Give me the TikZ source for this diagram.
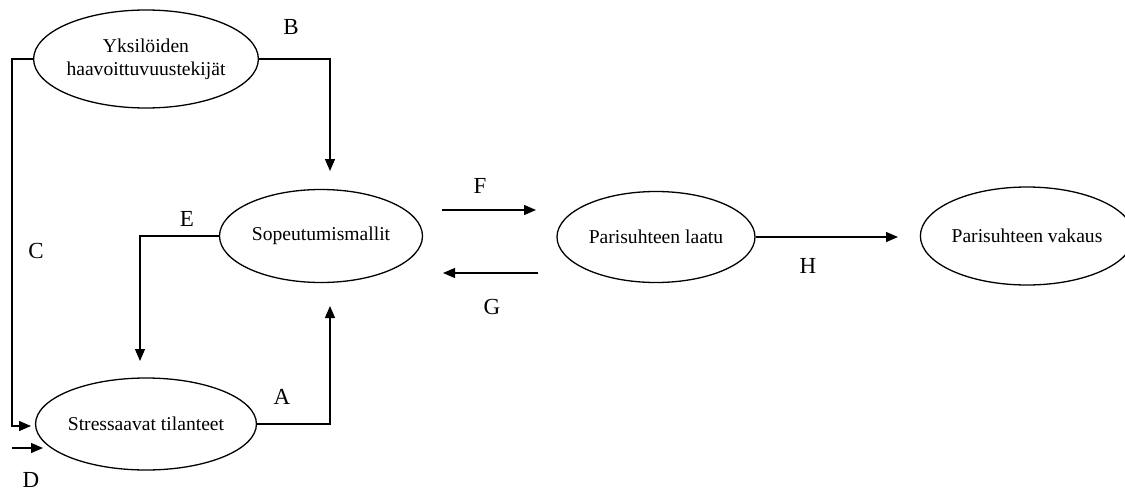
\documentclass[tikz,border=0pt]{standalone}
\usepackage{fontspec}
\setmainfont{Liberation Serif}
\usetikzlibrary{shapes.geometric,arrows.meta}
\begin{document}
\begin{tikzpicture}[x=1pt,y=-1pt,
  oval/.style={draw,ellipse,line width=1.3pt,inner sep=0pt,
    font=\fontsize{19.6}{23}\selectfont,align=center},
  link/.style={line width=1.3pt,-{Triangle[length=12pt,width=10pt]}},
  lab/.style={font=\fontsize{23}{26}\selectfont,inner sep=0pt}]
\useasboundingbox (0,0) rectangle (1125,493);

% factors
\node[oval,minimum width=206pt,minimum height=98pt] (yk) at (146,59)
  {Yksilöiden\\haavoittuvuustekijät};
\node[oval,minimum width=203pt,minimum height=93pt] (sop) at (321,236)
  {Sopeutumismallit};
\node[oval,minimum width=206pt,minimum height=92pt] (st) at (146,424)
  {Stressaavat tilanteet};
\node[oval,minimum width=198pt,minimum height=91pt] (pl) at (656,237)
  {Parisuhteen laatu};
\node[oval,minimum width=196pt,minimum height=98pt] (pv) at (1027,236)
  {Parisuhteen vakaus};

% free ends of the arrows
\coordinate (cEnd) at (31,426);
\coordinate (bEnd) at (330,171);
\coordinate (eEnd) at (140,361);
\coordinate (aEnd) at (330,306);
\coordinate (dStart) at (12,448);
\coordinate (dEnd) at (43,448);
\coordinate (fStart) at (442,210);
\coordinate (fEnd) at (536,210);
\coordinate (gStart) at (538,273);
\coordinate (gEnd) at (443,273);
\coordinate (hEnd) at (898,237);

% connectors
\draw[link] (yk.west) -- (yk.west -| 12,0) |- (cEnd);
\draw[link] (yk.east) -| (bEnd);
\draw[link] (sop.west) -| (eEnd);
\draw[link] (st.east) -| (aEnd);
\draw[link] (dStart) -- (dEnd);
\draw[link] (fStart) -- (fEnd);
\draw[link] (gStart) -- (gEnd);
\draw[link] (pl.east) -- (hEnd);

% labels
\node[lab] (lB) at (291,27) {B};
\node[lab] (lC) at (36,251) {C};
\node[lab] (lE) at (187,219) {E};
\node[lab] (lA) at (282,397) {A};
\node[lab] (lD) at (31,480) {D};
\node[lab] (lF) at (480,186) {F};
\node[lab] (lG) at (492,307) {G};
\node[lab] (lH) at (808,266) {H};
\end{tikzpicture}
\end{document}
